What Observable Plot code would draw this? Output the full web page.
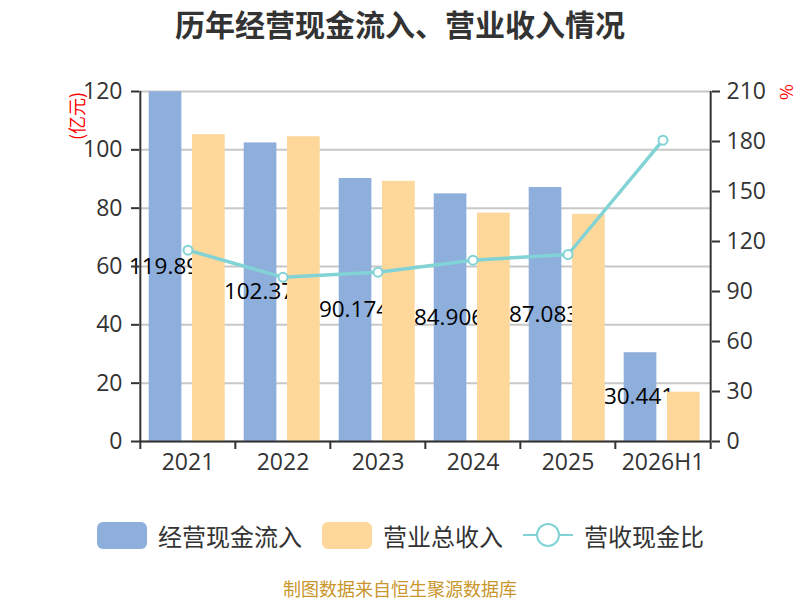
<!DOCTYPE html>
<html>
<head>
<meta charset="utf-8">
<script src="https://cdn.jsdelivr.net/npm/d3@7"></script>
<script src="https://cdn.jsdelivr.net/npm/@observablehq/plot@0.6"></script>
<style>
  body { margin: 0; background: #fff; }
  #wrap { position: relative; width: 800px; height: 600px; overflow: hidden; font-family: "Noto Sans", "Noto Sans CJK SC", sans-serif; color: #333; }
  #title { position: absolute; left: 0; top: 3px; width: 800px; text-align: center; font-size: 30px; font-weight: bold; font-family: "Noto Sans CJK SC", sans-serif; color: #333; line-height: 40px; }
  #chart { position: absolute; left: 0; top: 50px; }
  .unit { position: absolute; color: #ff0000; font-family: "Noto Sans CJK SC", sans-serif; white-space: nowrap; text-align: center; }
  #legend { position: absolute; left: 0; top: 518px; width: 800px; height: 34px; font-family: "Noto Sans CJK SC", sans-serif; font-size: 24px; color: #333; }
  .lg { position: absolute; top: 0; height: 34px; display: flex; align-items: center; white-space: nowrap; }
  .sw { width: 50px; height: 27px; border-radius: 6px; margin-right: 11px; }
  #footer { position: absolute; left: 0; top: 577px; width: 800px; text-align: center; font-size: 18px; line-height: 22px; color: #c9962b; font-family: "Noto Sans CJK SC", sans-serif; }
</style>
</head>
<body>
<div id="wrap">
  <div id="title">历年经营现金流入、营业收入情况</div>
  <div id="chart"></div>
  <div class="unit" style="left:46px; top:106px; width:60px; height:20px; line-height:20px; font-size:18px; transform: rotate(-90deg); transform-origin: 30px 10px;">(亿元)</div>
  <div class="unit" style="left:777px; top:82px; width:20px; height:20px; line-height:20px; font-size:17px; transform: rotate(90deg); transform-origin: 10px 10px;">%</div>
  <div id="legend"></div>
  <div id="footer">制图数据来自恒生聚源数据库</div>
</div>
<script>
const years = ["2021", "2022", "2023", "2024", "2025", "2026H1"];
const cashIn = [119.89, 102.37, 90.174, 84.906, 87.083, 30.441];
const revenue = [105.2, 104.5, 89.2, 78.3, 77.9, 16.9];
const ratio = [114.8, 98.5, 101.6, 108.8, 112.2, 180.8];
const leftTicks = [0, 20, 40, 60, 80, 100, 120];
const rightTicks = [0, 30, 60, 90, 120, 150, 180, 210];
const seriesNames = ["经营现金流入", "营业总收入", "营收现金比"];

const blue = "#8eaedb";
const orange = "#fed89a";
const teal = "#82d3d6";

const leftMax = 120, rightMax = 210;
const toLeft = v => v * leftMax / rightMax;

const data = years.map((year, i) => ({
  year,
  cash: cashIn[i],
  revenue: revenue[i],
  ratio: ratio[i],
  label: String(cashIn[i])
}));

const W = 800, H = 440, mL = 139, mR = 89, mT = 41, mB = 49;
const bw = (W - mL - mR) / years.length;
const numFont = '"Open Sans", "Noto Sans", sans-serif';

const chart = Plot.plot({
  width: W,
  height: H,
  marginLeft: mL,
  marginRight: mR,
  marginTop: mT,
  marginBottom: mB,
  style: { fontFamily: numFont, fontSize: "23px", color: "#333", background: "transparent", overflow: "visible" },
  x: { type: "band", domain: years, padding: 0, label: null },
  y: { domain: [0, leftMax], label: null },
  marks: [
    Plot.gridY(leftTicks, { stroke: "#c8c8c8", strokeOpacity: 1, strokeWidth: 2 }),
    Plot.barY(data, { x: "year", y: "cash", fill: blue, insetLeft: 8.7, insetRight: bw - 8.7 - 33 }),
    Plot.text(data, { x: "year", y: d => d.cash / 2, text: "label", dx: -24, fontSize: 22.5, fill: "#000", fontFamily: numFont }),
    Plot.barY(data, { x: "year", y: "revenue", fill: orange, insetLeft: bw - 10.3 - 33, insetRight: 10.3 }),
    Plot.ruleY([0], { stroke: "#333", strokeWidth: 2 }),
    Plot.ruleX([years[0]], { dx: -bw / 2, y1: 0, y2: leftMax, stroke: "#333", strokeWidth: 2 }),
    Plot.ruleX([years[years.length - 1]], { dx: bw / 2, y1: 0, y2: leftMax, stroke: "#333", strokeWidth: 2 }),
    Plot.axisY(leftTicks, { anchor: "left", tickSize: 8, tickPadding: 9, stroke: "#333", strokeWidth: 2, fontSize: 23, label: null }),
    Plot.axisY(rightTicks.map(toLeft), { anchor: "right", tickSize: 8, tickPadding: 7, stroke: "#333", strokeWidth: 2, fontSize: 23, label: null, tickFormat: v => String(Math.round(v * rightMax / leftMax)) }),
    Plot.axisX({ tickSize: 0, tickPadding: 12, fontSize: 23, label: null }),
    Plot.axisX({ tickSize: 8, dx: -bw / 2, fill: "none", stroke: "#333", strokeWidth: 2, label: null }),
    Plot.axisX([years[years.length - 1]], { tickSize: 8, dx: bw / 2, fill: "none", stroke: "#333", strokeWidth: 2, label: null }),
    Plot.line(data, { x: "year", y: d => toLeft(d.ratio), stroke: teal, strokeWidth: 3.5 }),
    Plot.dot(data, { x: "year", y: d => toLeft(d.ratio), r: 4.5, fill: "#fff", stroke: teal, strokeWidth: 2 })
  ]
});
document.getElementById("chart").appendChild(chart);

// legend
const legend = document.getElementById("legend");
const items = [
  { left: 97, kind: "bar", color: blue, name: seriesNames[0] },
  { left: 322, kind: "bar", color: orange, name: seriesNames[1] },
  { left: 523, kind: "line", color: teal, name: seriesNames[2] }
];
for (const it of items) {
  const el = document.createElement("div");
  el.className = "lg";
  el.style.left = it.left + "px";
  if (it.kind === "bar") {
    const sw = document.createElement("div");
    sw.className = "sw";
    sw.style.background = it.color;
    el.appendChild(sw);
  } else {
    const ns = "http://www.w3.org/2000/svg";
    const s = document.createElementNS(ns, "svg");
    s.setAttribute("width", 50); s.setAttribute("height", 28);
    s.style.marginRight = "11px";
    const ln = document.createElementNS(ns, "line");
    ln.setAttribute("x1", 0); ln.setAttribute("x2", 50); ln.setAttribute("y1", 14); ln.setAttribute("y2", 14);
    ln.setAttribute("stroke", it.color); ln.setAttribute("stroke-width", 2);
    const c = document.createElementNS(ns, "circle");
    c.setAttribute("cx", 25); c.setAttribute("cy", 14); c.setAttribute("r", 11);
    c.setAttribute("fill", "#fff"); c.setAttribute("stroke", it.color); c.setAttribute("stroke-width", 2);
    s.appendChild(ln); s.appendChild(c);
    el.appendChild(s);
  }
  const t = document.createElement("span");
  t.textContent = it.name;
  el.appendChild(t);
  legend.appendChild(el);
}
</script>
</body>
</html>
